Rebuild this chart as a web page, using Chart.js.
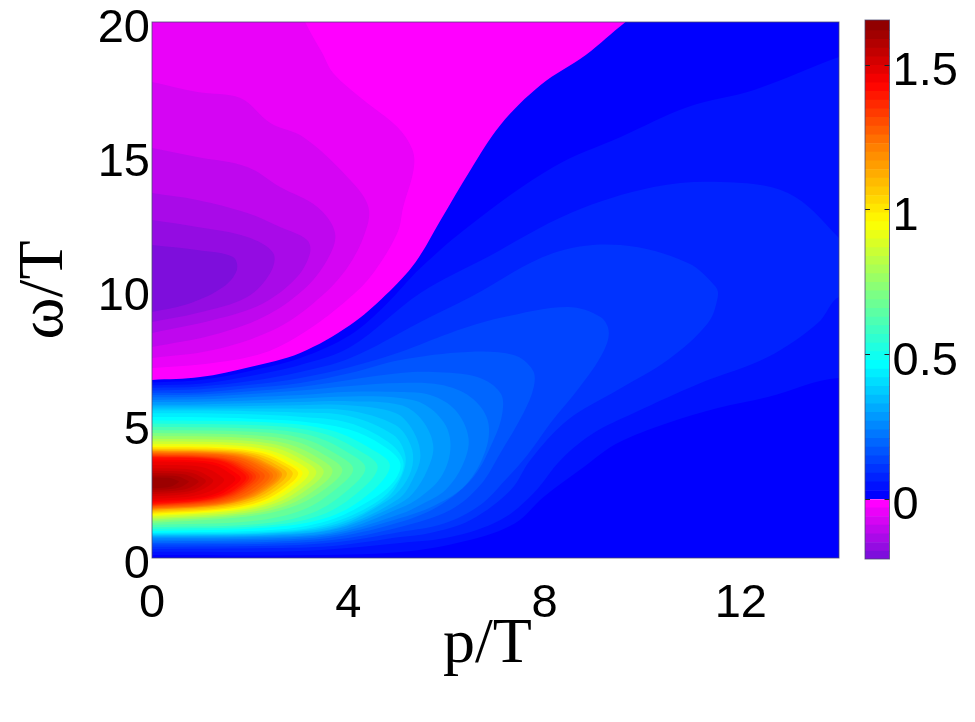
<!DOCTYPE html>
<html>
<head>
<meta charset="utf-8">
<style>
  body { margin: 0; background: #fff; }
  #wrap { position: relative; width: 975px; height: 722px; }
  #main { position: absolute; left: 0; top: 0; }
  #bar { position: absolute; left: 850px; top: 0; }
</style>
<script src="https://cdn.jsdelivr.net/npm/chart.js@4/dist/chart.umd.js"></script>
</head>
<body>
<div id="wrap">
  <canvas id="main" width="975" height="722"></canvas>
  <canvas id="bar" width="125" height="722"></canvas>
</div>
<script>
// tick labels
const xTicks = [0, 4, 8, 12];
const yTicks = [0, 5, 10, 15, 20];
const barTicks = [0, 0.5, 1, 1.5];

// colour scale
const stopValues = [-0.2, -0.001, 0, 0.45, 0.7, 0.94, 1.2, 1.42, 1.65];
const stopColors = [[112,16,216], [255,0,255], [0,0,255], [0,255,255], [128,255,128], [255,255,0], [255,128,0], [255,0,0], [128,0,0]];

// colorbar band edges
const barEdges = [-0.207,-0.18,-0.15,-0.12,-0.09,-0.06,-0.03,0,0.03,0.06,0.09,0.12,0.15,0.18,0.21,0.24,0.27,0.3,0.33,0.36,0.39,0.42,0.45,0.48,0.51,0.54,0.57,0.6,0.63,0.66,0.69,0.72,0.75,0.78,0.81,0.84,0.87,0.9,0.93,0.96,0.99,1.02,1.05,1.08,1.11,1.14,1.17,1.2,1.23,1.26,1.29,1.32,1.35,1.38,1.41,1.44,1.47,1.5,1.53,1.56,1.59,1.62,1.657];

// contours, [p/T, omega/T]
const whole = [[0,0],[14,0],[14,20],[0,20]];

// below zero
const n000 = [[0,6.64],[0.98,6.75],[2,7.13],[3.02,7.65],[4.04,8.69],[4.76,9.81],[5.37,11.04],[5.88,12.6],[6.49,14.48],[7.1,16.16],[7.92,17.65],[8.84,18.77],[9.65,20],[10.4,21],[0,21]];
const n003 = [[0,7.09],[1.24,7.28],[2.27,7.65],[3.08,8.4],[3.9,9.51],[4.45,10.49],[5,12.13],[5.12,13.1],[5.33,14.48],[5.31,15.22],[5,16.08],[4.31,17.09],[3.69,18.1],[3.47,18.84],[3.12,20],[2.9,21],[0,21]];
const n006 = [[0,17.76],[0.92,17.39],[1.8,17.16],[2.41,16.23],[3.08,15.71],[3.98,14.22],[4.41,13.1],[4.31,11.98],[3.9,10.63],[3.29,9.51],[2.47,8.51],[1.24,7.76],[0,7.46]];
const n009 = [[0,15.3],[0.92,14.96],[1.94,14.59],[2.61,13.84],[3.37,13.1],[3.73,12.13],[3.57,11.12],[3.08,10],[2.27,8.99],[1.24,8.32],[0,7.87]];
const n012 = [[0,13.62],[0.92,13.36],[1.94,12.87],[2.61,12.35],[3.16,11.87],[3.22,11.38],[2.96,10.49],[2.27,9.51],[1.24,8.88],[0,8.4]];
const n015 = [[0,12.61],[0.92,12.35],[1.94,11.98],[2.47,11.38],[2.41,10.63],[1.94,9.74],[0.92,9.14],[0,8.81]];
const n018 = [[0,11.68],[0.92,11.49],[1.65,11.23],[1.73,10.75],[1.45,10.11],[0.78,9.51],[0,9.18]];

// above zero
const p003 = [[0,6.55],[0.98,6.64],[2,6.98],[3.02,7.46],[4.04,8.32],[4.76,9.44],[5.47,10.82],[6.49,12.43],[8.18,14.59],[9.55,15.71],[10.92,16.83],[12.27,17.46],[14,18.69],[15,19.2],[15,6.3],[14,6.72],[12.55,6.01],[11.53,5.6],[10.51,5.04],[9.49,4.29],[8.8,3.4],[7.98,2.28],[7.4,1.3],[6.43,0.65],[5.06,0.22],[3.02,0.1],[0,0.11]];
const p006 = [[0,6.45],[0.98,6.5],[2,6.79],[3.02,7.2],[4.04,7.87],[5.47,9.89],[6.84,11.23],[8.53,12.87],[10.22,13.84],[11.59,14.03],[12.96,13.62],[13.98,11.98],[14.4,10.9],[14.4,9.4],[14,9.74],[13.57,8.77],[12.55,7.5],[11.18,6.53],[9.82,5.41],[9,4.66],[8.33,3.66],[7.78,2.43],[7.1,1.42],[6.08,0.78],[5.06,0.56],[3.02,0.26],[0,0.23]];
const p009 = [[0,6.35],[0.98,6.4],[2,6.6],[3.02,6.94],[4.04,7.46],[5.47,8.81],[6.49,9.74],[8.18,11.38],[9.55,11.68],[10.92,11.01],[11.49,10.11],[11.53,9.74],[11.33,8.77],[10.51,7.39],[9.49,6.27],[8.47,5.15],[7.71,3.66],[7.31,2.54],[6.49,1.42],[5.67,0.93],[5.06,0.78],[3.8,0.47],[2.5,0.37],[0,0.33]];
const p012 = [[0,6.25],[0.98,6.3],[2,6.46],[3.02,6.72],[4.04,7.13],[5.06,7.69],[6.08,8.4],[7.1,8.96],[8.47,9.37],[9.14,8.99],[9.31,8.4],[9.14,7.5],[8.67,6.27],[8.12,5.04],[7.65,3.84],[7.2,2.91],[6.69,1.98],[5.98,1.31],[5.06,0.97],[3.8,0.6],[2.5,0.46],[0,0.42]];
const p015 = [[0,6.16],[0.98,6.18],[2,6.34],[3.02,6.53],[4.04,6.9],[5.06,7.39],[6.43,7.69],[7.37,7.57],[7.76,7.01],[7.78,6.38],[7.57,5.41],[7.1,3.92],[6.69,2.72],[6.08,1.79],[5.06,1.16],[3.8,0.7],[2.5,0.54],[0,0.5]];
const p018 = [[0,6.08],[1,6.1],[2,6.22],[3.02,6.38],[4.04,6.65],[5.06,6.9],[5.73,6.94],[6.63,6.75],[7.1,6.16],[7.14,5.41],[6.96,4.4],[6.55,3.02],[5.88,1.98],[5.06,1.34],[3.8,0.8],[2.5,0.61],[0,0.56]];
const p021 = [[0,6],[1,6.02],[2,6.12],[3.02,6.25],[4.04,6.42],[5.06,6.53],[5.88,6.46],[6.49,6.01],[6.84,5.15],[6.8,4.03],[6.39,2.72],[5.78,1.98],[5.06,1.49],[3.8,0.88],[2.5,0.68],[0,0.62]];
const p024 = [[0,5.9],[1,5.92],[2,6],[3.02,6.08],[4.04,6.2],[5.06,6.19],[5.67,6.08],[6.18,5.52],[6.45,4.48],[6.33,3.47],[5.98,2.54],[5.47,1.98],[5.06,1.64],[3.8,0.95],[2.5,0.74],[0,0.68]];
const p027 = [[0,5.82],[1,5.83],[2,5.88],[3,5.95],[4.04,6.03],[5.06,5.97],[5.57,5.71],[5.98,4.96],[6.08,4.03],[5.88,2.99],[5.47,2.28],[5.06,1.87],[3.8,1.02],[2.5,0.79],[0,0.74]];
const p030 = [[0,5.72],[1,5.73],[2,5.77],[3,5.82],[4.04,5.85],[5.06,5.71],[5.47,5.22],[5.73,4.22],[5.61,3.28],[5.31,2.4],[4.96,1.95],[3.8,1.1],[2.5,0.84],[0,0.78]];
const p033 = [[0,5.65],[1,5.65],[2,5.67],[3,5.7],[4,5.7],[4.96,5.41],[5.31,4.78],[5.47,3.84],[5.33,2.99],[5.02,2.2],[3.8,1.15],[2.5,0.88],[0,0.82]];
const p036 = [[0,5.58],[1,5.58],[2,5.58],[3,5.57],[4,5.5],[4.96,4.96],[5.27,4.22],[5.31,3.47],[5.12,2.7],[4.76,2.1],[3.8,1.22],[2.5,0.92],[0,0.85]];
const p039 = [[0,5.5],[1,5.5],[2,5.48],[3,5.43],[4,5.3],[4.92,4.59],[5.16,3.84],[5.1,3.1],[4.76,2.2],[3.8,1.3],[2.5,0.95],[0,0.88]];
const p042 = [[0,5.4],[1,5.4],[2,5.36],[3,5.27],[4,5.05],[4.8,4.35],[5.12,3.62],[5,2.85],[4.55,2.05],[3.6,1.28],[2.5,0.99],[0,0.91]];
const p045 = [[0,5.26],[1,5.25],[2,5.2],[3,5.1],[4,4.8],[4.7,4.2],[5.06,3.54],[4.9,2.8],[4.4,2.1],[3.6,1.4],[2.5,1.05],[0,0.94]];
const p050 = [[0,5.14],[2.43,5.06],[3.64,4.77],[4.46,4.08],[4.85,3.45],[4.46,2.45],[3.64,1.55],[2.43,1.15],[0,1]];
const p055 = [[0,5.02],[2.3,4.94],[3.45,4.66],[4.23,4],[4.6,3.4],[4.23,2.5],[3.45,1.6],[2.3,1.2],[0,1.08]];
const p060 = [[0,4.9],[2.18,4.82],[3.26,4.56],[4,3.93],[4.35,3.36],[4,2.55],[3.26,1.68],[2.18,1.27],[0,1.15]];
const p065 = [[0,4.78],[2.05,4.71],[3.08,4.46],[3.77,3.86],[4.1,3.32],[3.77,2.6],[3.08,1.8],[2.05,1.38],[0,1.23]];
const p070 = [[0,4.66],[1.94,4.59],[2.91,4.36],[3.57,3.79],[3.88,3.28],[3.57,2.63],[2.91,1.94],[1.94,1.55],[0,1.31]];
const p075 = [[0,4.55],[1.84,4.49],[2.76,4.26],[3.39,3.73],[3.68,3.25],[3.39,2.63],[2.76,1.97],[1.84,1.6],[0,1.37]];
const p080 = [[0,4.45],[1.75,4.39],[2.63,4.18],[3.22,3.68],[3.5,3.23],[3.22,2.64],[2.63,2.01],[1.75,1.65],[0,1.43]];
const p085 = [[0,4.36],[1.68,4.3],[2.51,4.11],[3.08,3.64],[3.35,3.21],[3.08,2.64],[2.51,2.04],[1.68,1.7],[0,1.49]];
const p090 = [[0,4.26],[1.6,4.21],[2.4,4.02],[2.94,3.59],[3.2,3.19],[2.94,2.65],[2.4,2.07],[1.6,1.75],[0,1.55]];
const p095 = [[0,4.18],[1.54,4.13],[2.3,3.96],[2.82,3.54],[3.07,3.17],[2.82,2.65],[2.3,2.1],[1.54,1.79],[0,1.6]];
const p100 = [[0,4.14],[1.49,4.09],[2.24,3.92],[2.74,3.52],[2.98,3.16],[2.74,2.66],[2.24,2.13],[1.49,1.83],[0,1.65]];
const p105 = [[0,4.09],[1.44,4.04],[2.15,3.88],[2.64,3.5],[2.87,3.15],[2.64,2.67],[2.15,2.16],[1.44,1.87],[0,1.7]];
const p110 = [[0,4.05],[1.38,4],[2.06,3.85],[2.53,3.48],[2.75,3.14],[2.53,2.68],[2.06,2.19],[1.38,1.91],[0,1.74]];
const p115 = [[0,4],[1.33,3.96],[1.99,3.81],[2.44,3.45],[2.65,3.12],[2.44,2.68],[1.99,2.22],[1.33,1.95],[0,1.79]];
const p1175 = [[0,3.98],[1.3,3.94],[1.95,3.79],[2.39,3.43],[2.6,3.11],[2.39,2.68],[1.95,2.23],[1.3,1.96],[0,1.81]];
const p120 = [[0,3.96],[1.28,3.92],[1.91,3.77],[2.35,3.42],[2.55,3.1],[2.35,2.68],[1.91,2.24],[1.28,1.98],[0,1.83]];
const p1225 = [[0,3.94],[1.24,3.9],[1.85,3.75],[2.28,3.4],[2.47,3.08],[2.28,2.67],[1.85,2.24],[1.24,1.99],[0,1.85]];
const p125 = [[0,3.92],[1.2,3.88],[1.8,3.73],[2.21,3.38],[2.4,3.07],[2.21,2.67],[1.8,2.25],[1.2,2.01],[0,1.87]];
const p1275 = [[0,3.88],[1.15,3.84],[1.72,3.7],[2.11,3.36],[2.3,3.06],[2.11,2.67],[1.72,2.27],[1.15,2.03],[0,1.9]];
const p130 = [[0,3.85],[1.1,3.81],[1.65,3.67],[2.02,3.35],[2.2,3.05],[2.02,2.68],[1.65,2.29],[1.1,2.06],[0,1.93]];
const p1325 = [[0,3.82],[1.06,3.78],[1.59,3.65],[1.95,3.33],[2.12,3.04],[1.95,2.68],[1.59,2.3],[1.06,2.08],[0,1.95]];
const p135 = [[0,3.8],[1.03,3.76],[1.54,3.63],[1.89,3.31],[2.05,3.03],[1.89,2.68],[1.54,2.32],[1.03,2.11],[0,1.98]];
const p1375 = [[0,3.78],[0.99,3.74],[1.49,3.61],[1.83,3.3],[1.98,3.01],[1.83,2.68],[1.49,2.33],[0.99,2.13],[0,2]];
const p140 = [[0,3.75],[0.96,3.71],[1.44,3.59],[1.77,3.28],[1.92,3],[1.77,2.68],[1.44,2.34],[0.96,2.15],[0,2.03]];
const p1425 = [[0,3.68],[0.9,3.64],[1.36,3.52],[1.66,3.23],[1.81,2.97],[1.66,2.68],[1.36,2.36],[0.9,2.18],[0,2.07]];
const p145 = [[0,3.6],[0.85,3.57],[1.28,3.46],[1.56,3.19],[1.7,2.95],[1.56,2.68],[1.28,2.39],[0.85,2.22],[0,2.12]];
const p1475 = [[0,3.47],[0.74,3.45],[1.11,3.35],[1.35,3.12],[1.47,2.91],[1.35,2.68],[1.11,2.44],[0.74,2.29],[0,2.21]];
const p150 = [[0,3.35],[0.63,3.33],[0.94,3.25],[1.15,3.05],[1.25,2.88],[1.15,2.69],[0.94,2.49],[0.63,2.37],[0,2.3]];
const p1525 = [[0,3.26],[0.55,3.24],[0.82,3.17],[1.01,3.01],[1.1,2.87],[1.01,2.7],[0.82,2.53],[0.55,2.44],[0,2.38]];
const p155 = [[0,3.17],[0.48,3.15],[0.71,3.1],[0.87,2.97],[0.95,2.85],[0.87,2.72],[0.71,2.58],[0.48,2.51],[0,2.46]];
const p1575 = [[0,3.08],[0.38,3.07],[0.56,3.03],[0.68,2.93],[0.75,2.85],[0.68,2.74],[0.56,2.63],[0.38,2.57],[0,2.53]];
const p160 = [[0,3],[0.28,2.99],[0.41,2.97],[0.5,2.9],[0.55,2.85],[0.5,2.77],[0.41,2.68],[0.28,2.63],[0,2.6]];

// lowest first, later ones paint over earlier ones
const levels = [0, 0.03, 0.06, 0.09, 0.12, 0.15, 0.18, 0.21, 0.24, 0.27, 0.3, 0.33, 0.36, 0.39, 0.42, 0.45,
  0.5, 0.55, 0.6, 0.65, 0.7, 0.75, 0.8, 0.85, 0.9, 0.95, 1, 1.05, 1.1, 1.15, 1.175, 1.2, 1.225, 1.25, 1.275, 1.3, 1.325, 1.35, 1.375, 1.4, 1.425, 1.45, 1.475, 1.5, 1.525, 1.55, 1.575, 1.6,
  -0.001, -0.03, -0.06, -0.09, -0.12, -0.15, -0.18];
const contours = [whole, p003, p006, p009, p012, p015, p018, p021, p024, p027, p030, p033, p036, p039, p042, p045,
  p050, p055, p060, p065, p070, p075, p080, p085, p090, p095, p100, p105, p110, p115, p1175, p120, p1225, p125, p1275, p130, p1325, p135, p1375, p140, p1425, p145, p1475, p150, p1525, p155, p1575, p160,
  n000, n003, n006, n009, n012, n015, n018];

function colorOf(v) {
  let i = 0;
  while (i < stopValues.length - 2 && v > stopValues[i + 1]) i++;
  let t = (v - stopValues[i]) / (stopValues[i + 1] - stopValues[i]);
  t = Math.max(0, Math.min(1, t));
  const a = stopColors[i], b = stopColors[i + 1];
  const c = a.map((n, k) => Math.round(n + (b[k] - n) * t));
  return 'rgb(' + c.join(',') + ')';
}

// thin frame round the plot area
const frameColor = 'rgba(70,70,110,0.75)';
const frame = {
  id: 'frame',
  afterDraw(chart) {
    const { ctx, chartArea: a } = chart;
    ctx.save();
    ctx.strokeStyle = frameColor;
    ctx.lineWidth = 1;
    ctx.strokeRect(a.left, a.top, a.right - a.left, a.bottom - a.top);
    ctx.restore();
  }
};

const tickFont = { family: '"Liberation Sans", Arial, sans-serif', size: 47, lineHeight: '14px' };
const titleFont = { family: '"Liberation Serif", "Times New Roman", serif', size: 64, lineHeight: 1 };

// datasets paint from last to first, so the list is reversed
const mainSets = levels.map((v, i) => ({
  data: contours[i],
  showLine: true,
  fill: 'shape',
  backgroundColor: colorOf(v),
  borderWidth: 0,
  pointRadius: 0,
  tension: contours[i] === whole ? 0 : 0.35
})).reverse();

new Chart(document.getElementById('main'), {
  type: 'scatter',
  data: { datasets: mainSets },
  plugins: [frame],
  options: {
    responsive: false,
    animation: false,
    layout: { padding: { left: 0, top: 22, right: 136, bottom: 0 } },
    plugins: { legend: { display: false }, tooltip: { enabled: false } },
    scales: {
      x: {
        type: 'linear', min: 0, max: 14,
        afterBuildTicks: s => { s.ticks = xTicks.map(v => ({ value: v })); },
        afterFit: s => { s.height = 164; },
        grid: { display: false, drawTicks: false }, border: { display: false },
        ticks: { color: '#000', font: { family: tickFont.family, size: 47 }, padding: 18, maxRotation: 0, autoSkip: false },
        // trailing space nudges the title left, as in the original
        title: { display: true, text: 'p/T ', color: '#000', font: titleFont, padding: { top: 0, bottom: 45 } }
      },
      y: {
        type: 'linear', min: 0, max: 20,
        afterBuildTicks: s => { s.ticks = yTicks.map(v => ({ value: v })); },
        afterFit: s => { s.width = 152; },
        grid: { display: false, drawTicks: false }, border: { display: false },
        ticks: { color: '#000', font: tickFont, padding: 2, autoSkip: false, callback: v => ['', String(v)] },
        title: { display: true, text: 'ω/T', color: '#000', font: titleFont, padding: { top: 13, bottom: 0 } }
      }
    }
  }
});

// colorbar
const barSets = barEdges.slice(0, -1).map((lo, i) => {
  const hi = barEdges[i + 1];
  return { data: [[lo, hi]], backgroundColor: colorOf(lo < 0 ? Math.min(hi, -0.001) : lo), borderWidth: 0, grouped: false, barPercentage: 1, categoryPercentage: 1 };
});

new Chart(document.getElementById('bar'), {
  type: 'bar',
  data: { labels: [''], datasets: barSets },
  plugins: [frame],
  options: {
    responsive: false,
    animation: false,
    layout: { padding: { left: 15, top: 20, right: 0, bottom: 163 } },
    plugins: { legend: { display: false }, tooltip: { enabled: false } },
    scales: {
      x: { display: false },
      y: {
        type: 'linear', position: 'right', min: -0.207, max: 1.657,
        afterBuildTicks: s => { s.ticks = barTicks.map(v => ({ value: v })); },
        afterFit: s => { s.width = 85.5; },
        grid: { z: 1, color: '#222', lineWidth: 1, drawTicks: false },
        border: { display: false, dash: [5, 14.5] },
        ticks: { color: '#000', font: tickFont, padding: 3, autoSkip: false, callback: v => ['', String(v)] }
      }
    }
  }
});
</script>
</body>
</html>
